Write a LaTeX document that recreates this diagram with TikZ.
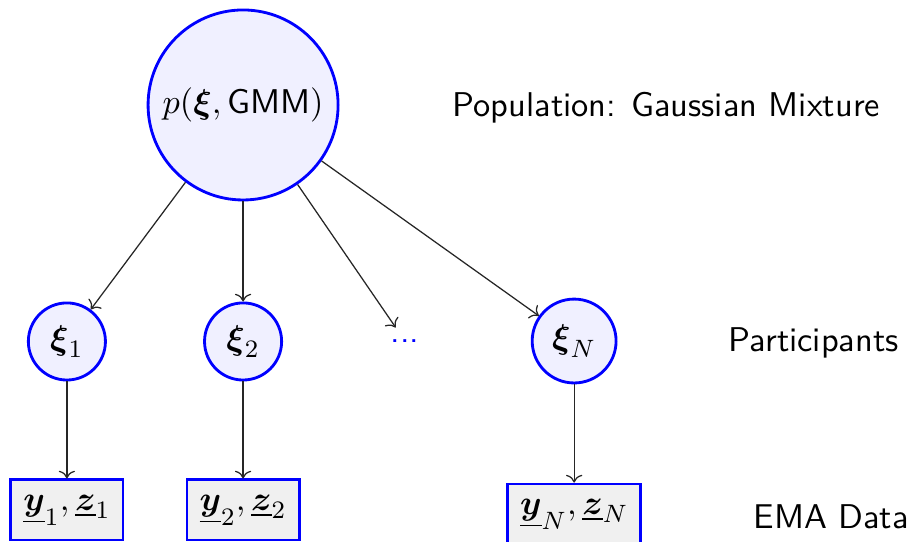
\documentclass[11pt,tikz,border=0pt]{standalone}
\usepackage{amsmath,amssymb}
\usepackage{tikz}
\usetikzlibrary{arrows.meta}

\begin{document}
\begin{tikzpicture}[x=1in,y=1in,
  popnode/.style={circle,draw=blue,line width=0.9pt,fill=blue!6,inner sep=0pt,minimum size=0.838in},
  partnode/.style={circle,draw=blue,line width=0.9pt,fill=blue!6,inner sep=1pt,minimum size=0.34in},
  datanode/.style={rectangle,draw=blue,line width=0.9pt,fill=black!6,inner sep=4pt,minimum height=0.265in},
  sidelbl/.style={anchor=base west,inner sep=0pt,font=\sffamily},
  link/.style={->,black!85}]
\useasboundingbox (0,0) rectangle (4.0,2.386);
% population
\node[popnode] (pop) at (1.072,1.923) {$p(\boldsymbol{\xi}, \textsf{GMM})$};
% participants
\node[partnode] (xi1) at (0.295,0.880) {$\boldsymbol{\xi}_1$};
\node[partnode] (xi2) at (1.072,0.880) {$\boldsymbol{\xi}_2$};
\node[text=blue,font=\sffamily] (dots) at (1.786,0.882) {...};
\node[partnode,minimum size=0.37in] (xiN) at (2.532,0.882) {$\boldsymbol{\xi}_N$};
% data
\node[datanode] (dat1) at (0.295,0.137) {$\underline{\boldsymbol{y}}_1, \underline{\boldsymbol{z}}_1$};
\node[datanode] (dat2) at (1.072,0.137) {$\underline{\boldsymbol{y}}_2, \underline{\boldsymbol{z}}_2$};
\node[datanode] (datN) at (2.532,0.119) {$\underline{\boldsymbol{y}}_N, \underline{\boldsymbol{z}}_N$};
% links
\draw[link] (pop) -- (xi1);
\draw[link] (pop) -- (xi2);
\draw[link] (pop) -- (dots);
\draw[link] (pop) -- (xiN);
\draw[link] (xi1) -- (dat1);
\draw[link] (xi2) -- (dat2);
\draw[link] (xiN) -- (datN);
% side labels
\node[sidelbl] (lpop) at (1.993,1.870) {Population: Gaussian Mixture};
\node[sidelbl] (lpart) at (3.211,0.834) {Participants};
\node[sidelbl] (ldat) at (3.321,0.057) {EMA Data};
\end{tikzpicture}
\end{document}
